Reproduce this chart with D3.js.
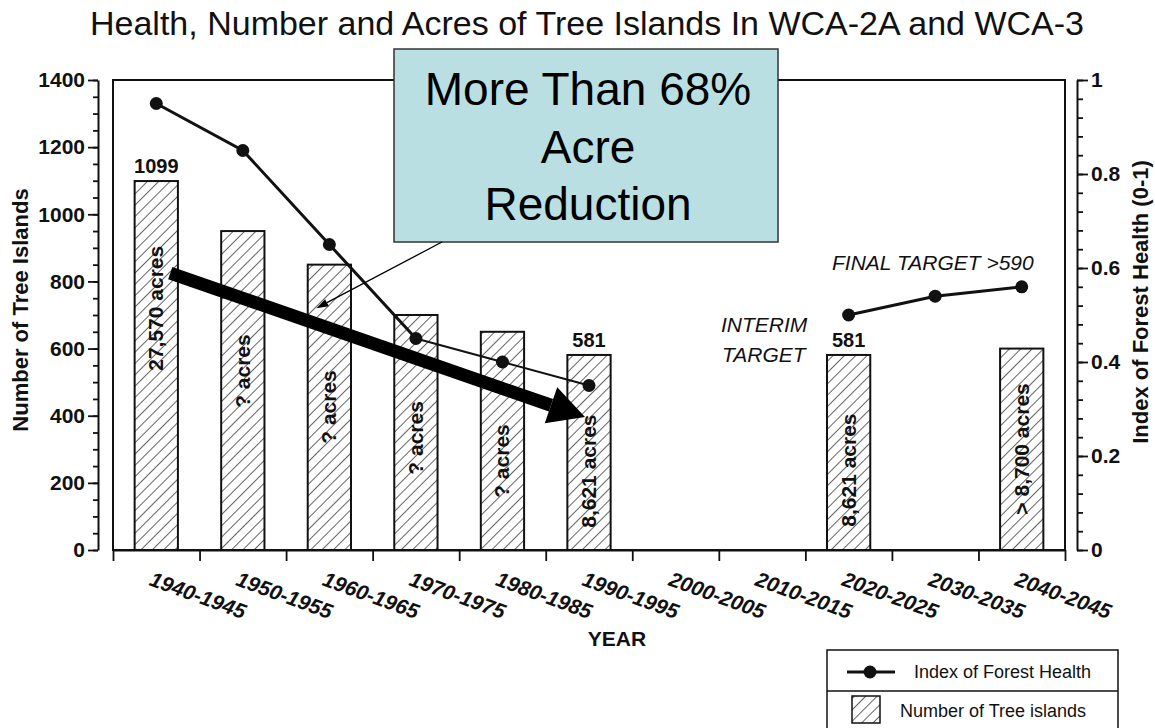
<!DOCTYPE html>
<html>
<head>
<meta charset="utf-8">
<script src="https://cdn.jsdelivr.net/npm/d3@7"></script>
<style>
  html, body { margin: 0; padding: 0; background: #fff; }
  svg { display: block; font-family: "Liberation Sans", Arial, Helvetica, sans-serif; }
</style>
</head>
<body>
<svg id="chart" width="1155" height="728"></svg>
<script>
// ---------------- data ----------------
const categories = ["1940-1945","1950-1955","1960-1965","1970-1975","1980-1985","1990-1995",
                    "2000-2005","2010-2015","2020-2025","2030-2035","2040-2045"];
const treeIslands = [1099, 950, 850, 700, 650, 581, null, null, 581, null, 600];
const barTopLabels = ["1099", null, null, null, null, "581", null, null, "581", null, null];
const acreLabels = ["27,570 acres","? acres","? acres","? acres","? acres","8,621 acres",
                    null, null, "8,621 acres", null, "> 8,700 acres"];
const acreLabelAt = [720, 533, 426, 334, 265, 235, null, null, 238, null, 301]; // label centre, in tree-island units
const healthHistoricCats = ["1940-1945","1950-1955","1960-1965","1970-1975","1980-1985","1990-1995"];
const healthHistoric = [0.95, 0.85, 0.65, 0.45, 0.40, 0.35];
const healthTargetCats = ["2020-2025","2030-2035","2040-2045"];
const healthTarget = [0.50, 0.54, 0.56];
const leftTicks = [0, 200, 400, 600, 800, 1000, 1200, 1400];
const leftTickLabels = ["0", "200", "400", "600", "800", "1000", "1200", "1400"];
const rightTicks = [0, 0.2, 0.4, 0.6, 0.8, 1];
const rightTickLabels = ["0", "0.2", "0.4", "0.6", "0.8", "1"];
const titleText = "Health, Number and Acres of Tree Islands In WCA-2A and WCA-3";
const calloutLines = ["More Than 68%", "Acre", "Reduction"];
const legendItems = ["Index of Forest Health", "Number of Tree islands"];

// ---------------- layout ----------------
const svg = d3.select("#chart");
const plot = { left: 113, right: 1065, top: 80, bottom: 550 };

const x = d3.scaleBand().domain(categories).range([plot.left, plot.right])
  .paddingInner(0.5).paddingOuter(0.25);
const xEdge = d3.scaleLinear().domain([0, categories.length]).range([plot.left, plot.right]);
const yL = d3.scaleLinear().domain([0, 1400]).range([plot.bottom, plot.top]);
const yR = d3.scaleLinear().domain([0, 1]).range([plot.bottom, plot.top]);
const cx = c => x(c) + x.bandwidth() / 2;

// hatch pattern
const defs = svg.append("defs");
const pat = defs.append("pattern").attr("id", "hatch").attr("patternUnits", "userSpaceOnUse")
  .attr("width", 8).attr("height", 8).attr("patternTransform", "rotate(45)");
pat.append("rect").attr("width", 8).attr("height", 8).attr("fill", "#fff");
pat.append("line").attr("x1", 0).attr("y1", 0).attr("x2", 0).attr("y2", 8)
  .attr("stroke", "#111").attr("stroke-width", 1.3);

// title
svg.append("text").attr("x", 587).attr("y", 35).attr("text-anchor", "middle")
  .attr("font-size", 34).attr("fill", "#111").text(titleText);

// frame
svg.append("rect").attr("x", plot.left).attr("y", plot.top)
  .attr("width", plot.right - plot.left).attr("height", plot.bottom - plot.top)
  .attr("fill", "none").attr("stroke", "#111").attr("stroke-width", 2);

// bars
const barData = categories.map((c, i) => ({ c, v: treeIslands[i], top: barTopLabels[i], acre: acreLabels[i], at: acreLabelAt[i] }))
  .filter(d => d.v != null);
svg.append("g").selectAll("rect").data(barData).join("rect")
  .attr("x", d => x(d.c)).attr("y", d => yL(d.v))
  .attr("width", x.bandwidth()).attr("height", d => yL(0) - yL(d.v))
  .attr("fill", "url(#hatch)").attr("stroke", "#111").attr("stroke-width", 2);

// bar top labels
svg.append("g").selectAll("text").data(barData.filter(d => d.top)).join("text")
  .attr("x", d => cx(d.c)).attr("y", d => yL(d.v) - 8).attr("text-anchor", "middle")
  .attr("font-size", 20).attr("font-weight", "bold").attr("fill", "#111").text(d => d.top);

// acre labels (rotated)
svg.append("g").selectAll("text").data(barData.filter(d => d.acre)).join("text")
  .attr("transform", d => `translate(${cx(d.c) + 7},${yL(d.at)}) rotate(-90)`)
  .attr("text-anchor", "middle").attr("font-size", 21).attr("font-weight", "bold")
  .attr("fill", "#111").text(d => d.acre);

// left axis
const gL = svg.append("g").attr("transform", "translate(98,0)");
gL.call(d3.axisLeft(yL).tickValues(d3.range(0, 1401, 50)).tickSize(5).tickSizeOuter(0).tickFormat(""));
gL.append("g").call(d3.axisLeft(yL).tickValues(leftTicks).tickSize(10).tickSizeOuter(0).tickPadding(3)
  .tickFormat((d, i) => leftTickLabels[i]))
  .call(g => g.select(".domain").remove());
gL.selectAll("path.domain").attr("stroke", "#111").attr("stroke-width", 2);
gL.selectAll("line").attr("stroke", "#111").attr("stroke-width", 1.8);
gL.selectAll("text").attr("font-size", 21).attr("font-weight", "bold").attr("fill", "#111")
  .attr("font-family", "Liberation Sans, Arial, sans-serif");

// right axis
const gR = svg.append("g").attr("transform", "translate(1077,0)");
gR.call(d3.axisRight(yR).tickValues(d3.range(0, 1.0001, 0.04)).tickSize(6).tickSizeOuter(0).tickFormat(""));
gR.append("g").call(d3.axisRight(yR).tickValues(rightTicks).tickSize(11).tickSizeOuter(0).tickPadding(3)
  .tickFormat((d, i) => rightTickLabels[i]))
  .call(g => g.select(".domain").remove());
gR.selectAll("path.domain").attr("stroke", "#111").attr("stroke-width", 2);
gR.selectAll("line").attr("stroke", "#111").attr("stroke-width", 1.8);
gR.selectAll("text").attr("font-size", 21).attr("font-weight", "bold").attr("fill", "#111")
  .attr("font-family", "Liberation Sans, Arial, sans-serif");

// x axis ticks at band edges
const gX = svg.append("g").attr("transform", `translate(0,${plot.bottom})`);
gX.call(d3.axisBottom(xEdge).tickValues(d3.range(0, categories.length + 1)).tickSize(11).tickSizeOuter(0).tickFormat(""));
gX.selectAll("path.domain").attr("stroke", "#111").attr("stroke-width", 2);
gX.selectAll("line").attr("stroke", "#111").attr("stroke-width", 1.8);

// x labels (rotated, italic bold)
svg.append("g").selectAll("text").data(categories).join("text")
  .attr("transform", d => `translate(${cx(d) - 8},${plot.bottom + 35}) rotate(20)`)
  .attr("font-size", 21).attr("font-weight", "bold").attr("font-style", "italic")
  .attr("fill", "#111").text(d => d);

// axis titles
svg.append("text").attr("x", 617).attr("y", 646).attr("text-anchor", "middle")
  .attr("font-size", 21).attr("font-weight", "bold").attr("fill", "#111").text("YEAR");
svg.append("text").attr("transform", "translate(28,310) rotate(-90)").attr("text-anchor", "middle")
  .attr("font-size", 22).attr("font-weight", "bold").attr("fill", "#111").text("Number of Tree Islands");
svg.append("text").attr("transform", "translate(1148,302) rotate(-90)").attr("text-anchor", "middle")
  .attr("font-size", 22).attr("font-weight", "bold").attr("fill", "#111").text("Index of Forest Health (0-1)");

// health index lines
const hist = healthHistoricCats.map((c, i) => ({ c, v: healthHistoric[i] }));
const targ = healthTargetCats.map((c, i) => ({ c, v: healthTarget[i] }));
const line = d3.line().x(d => cx(d.c)).y(d => yR(d.v));
svg.append("path").datum(hist.slice(0, 4)).attr("d", line)
  .attr("fill", "none").attr("stroke", "#111").attr("stroke-width", 3);
svg.append("path").datum(hist.slice(3)).attr("d", line)
  .attr("fill", "none").attr("stroke", "#111").attr("stroke-width", 2);
svg.append("path").datum(targ).attr("d", line)
  .attr("fill", "none").attr("stroke", "#111").attr("stroke-width", 3);
svg.append("g").selectAll("circle").data(hist.concat(targ)).join("circle")
  .attr("cx", d => cx(d.c)).attr("cy", d => yR(d.v)).attr("r", 6.5).attr("fill", "#111");

// target annotations
const tg = svg.append("g").attr("font-size", 21).attr("font-style", "italic").attr("fill", "#111");
tg.append("text").attr("x", x("2020-2025") - 106).attr("y", 332).text("INTERIM");
tg.append("text").attr("x", x("2020-2025") - 105).attr("y", 362).text("TARGET");
tg.append("text").attr("x", cx("2040-2045") + 12).attr("y", 270).attr("text-anchor", "end").text("FINAL TARGET >590");

// thick arrow (from 1940s to 1990s)
const aStart = [cx("1940-1945") + 14, yL(825)];
const aTip = [cx("1990-1995") - 4, yL(396)];
const ang = Math.atan2(aTip[1] - aStart[1], aTip[0] - aStart[0]);
const headLen = 36, headHalf = 19;
const base = [aTip[0] - headLen * Math.cos(ang), aTip[1] - headLen * Math.sin(ang)];
svg.append("line").attr("x1", aStart[0]).attr("y1", aStart[1]).attr("x2", base[0]).attr("y2", base[1])
  .attr("stroke", "#000").attr("stroke-width", 13);
svg.append("path").attr("d", d3.line()([
  aTip,
  [base[0] + headHalf * Math.sin(ang), base[1] - headHalf * Math.cos(ang)],
  [base[0] - headHalf * Math.sin(ang), base[1] + headHalf * Math.cos(ang)]
]) + "Z").attr("fill", "#000");

// callout box
const box = { x: 394, y: 49, w: 384, h: 193 };
svg.append("rect").attr("x", box.x).attr("y", box.y).attr("width", box.w).attr("height", box.h)
  .attr("fill", "#badfe3").attr("stroke", "#333").attr("stroke-width", 1.5);
svg.append("g").selectAll("text").data(calloutLines).join("text")
  .attr("x", 588).attr("y", (d, i) => 105 + i * 57.5).attr("text-anchor", "middle")
  .attr("font-size", 46).attr("fill", "#000").text(d => d);

// thin pointer arrow from box
const p0 = [442, box.y + box.h], p1 = [cx("1960-1965") - 13, yL(720)];
const a2 = Math.atan2(p1[1] - p0[1], p1[0] - p0[0]);
const b2 = [p1[0] - 12 * Math.cos(a2), p1[1] - 12 * Math.sin(a2)];
svg.append("line").attr("x1", p0[0]).attr("y1", p0[1]).attr("x2", b2[0]).attr("y2", b2[1])
  .attr("stroke", "#000").attr("stroke-width", 1.3);
svg.append("path").attr("d", d3.line()([
  p1,
  [b2[0] + 4 * Math.sin(a2), b2[1] - 4 * Math.cos(a2)],
  [b2[0] - 4 * Math.sin(a2), b2[1] + 4 * Math.cos(a2)]
]) + "Z").attr("fill", "#000");

// legend
const lg = svg.append("g");
lg.append("rect").attr("x", 827).attr("y", 650).attr("width", 291).attr("height", 90)
  .attr("fill", "#fff").attr("stroke", "#111").attr("stroke-width", 1.5);
lg.append("line").attr("x1", 827).attr("x2", 1118).attr("y1", 691).attr("y2", 691)
  .attr("stroke", "#111").attr("stroke-width", 1.5);
lg.append("line").attr("x1", 847).attr("x2", 895).attr("y1", 672).attr("y2", 672)
  .attr("stroke", "#111").attr("stroke-width", 3);
lg.append("circle").attr("cx", 870).attr("cy", 672).attr("r", 6.5).attr("fill", "#111");
lg.append("rect").attr("x", 852).attr("y", 696).attr("width", 28).attr("height", 27)
  .attr("fill", "url(#hatch)").attr("stroke", "#111").attr("stroke-width", 1.5);
lg.selectAll("text.lt").data(legendItems).join("text").attr("class", "lt")
  .attr("x", (d, i) => i === 0 ? 914 : 900).attr("y", (d, i) => i === 0 ? 678 : 717)
  .attr("font-size", 18).attr("fill", "#111").text(d => d);
</script>
</body>
</html>
